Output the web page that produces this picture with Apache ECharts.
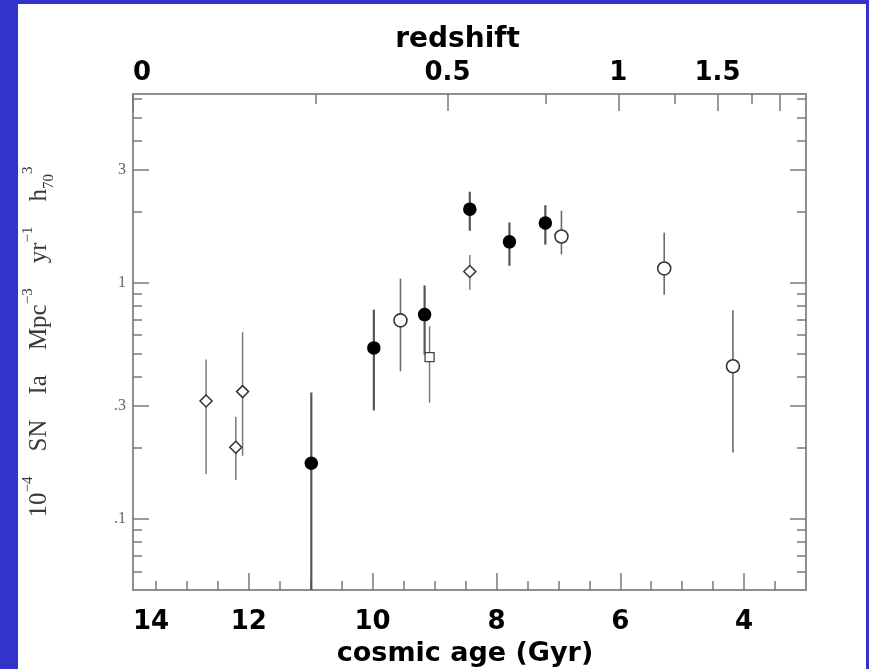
<!DOCTYPE html>
<html>
<head>
<meta charset="utf-8">
<script src="https://cdn.jsdelivr.net/npm/echarts@6/dist/echarts.min.js"></script>
<style>
  html, body { margin: 0; padding: 0; background: #3333cc; }
  #chart { width: 869px; height: 669px; }
</style>
</head>
<body>
<div id="chart"></div>
<script>
// SN Ia rate (10^-4 SN Ia Mpc^-3 yr^-1 h70^3) against cosmic age in Gyr.
// Filled circles
const filledAge  = [10.99, 9.98, 9.16, 8.43, 7.79, 7.21];
const filledRate = [0.172, 0.530, 0.733, 2.05, 1.49, 1.79];
const filledHi   = [0.343, 0.769, 0.974, 2.43, 1.80, 2.13];
const filledLo   = [0.03, 0.288, 0.497, 1.66, 1.18, 1.45];

// Open circles
const openAge  = [9.55, 6.95, 5.29, 4.18];
const openRate = [0.693, 1.57, 1.15, 0.443];
const openHi   = [1.04, 2.02, 1.63, 0.764];
const openLo   = [0.422, 1.32, 0.890, 0.191];

// Open diamonds
const diamondAge  = [12.69, 12.21, 12.10, 8.43];
const diamondRate = [0.316, 0.201, 0.346, 1.116];
const diamondHi   = [0.473, 0.271, 0.617, 1.31];
const diamondLo   = [0.155, 0.146, 0.185, 0.934];

// Open square
const squareAge  = [9.08];
const squareRate = [0.484];
const squareHi   = [0.654];
const squareLo   = [0.311];

// Axis ranges and ticks
const ageMin = 3, ageMax = 13.87;
const rateMin = 0.05, rateMax = 6.3;
const ageMajor  = [4, 6, 8, 10, 12];
const ageLabels = [4, 6, 8, 10, 12, 14];
const ageMinor  = [3.5, 4.5, 5, 5.5, 6.5, 7, 7.5, 8.5, 9, 9.5, 10.5, 11, 11.5, 12.5, 13, 13.5];
// redshift ticks and the cosmic age at which each one sits
const zMajor    = ['2', '1.5', '1', '0.5', '0'];
const zMajorAge = [3.43, 4.43, 6.03, 8.79, 13.87];
const zLabels   = ['1.5', '1', '0.5', '0'];
const zMinor    = ['1.75', '1.25', '0.75', '0.25'];
const zMinorAge = [3.88, 5.12, 7.21, 10.92];
const rateMajor = [0.1, 0.3, 1, 3];
const rateMinor = [0.06, 0.07, 0.08, 0.09, 0.2, 0.4, 0.5, 0.6, 0.7, 0.8, 0.9, 2, 4, 5, 6];

const FRAME = '#8f8f8f';
const TICK = '#7a7a7a';
const SANS = 'DejaVu Sans';
const SERIF = 'Liberation Serif';

const gridBox = { left: 133, right: 63, top: 94, bottom: 79, outerBoundsMode: 'none', containLabel: false };

const zLabelByAge = {};
zMajorAge.forEach((a, i) => { if (zLabels.includes(zMajor[i])) zLabelByAge[a] = zMajor[i]; });

function ageAxis(gridIndex, position, opts) {
  return Object.assign({
    gridIndex, position, type: 'value', min: ageMin, max: ageMax, inverse: true,
    splitLine: { show: false },
    axisLine: { show: false },
    axisLabel: { show: false }
  }, opts);
}
function rateAxis(gridIndex, position, opts) {
  return Object.assign({
    gridIndex, position, type: 'log', logBase: 10, min: rateMin, max: rateMax,
    splitLine: { show: false },
    axisLine: { show: false },
    axisLabel: { show: false }
  }, opts);
}
const frameLine = { show: true, onZero: false, lineStyle: { color: FRAME, width: 2 } };
const boldText = { fontFamily: SANS, fontWeight: 'bold', fontSize: 26, color: '#000' };
const titleText = { fontFamily: SANS, fontWeight: 'bold', fontSize: 27, color: '#000' };

function errorBars(ages, lo, hi, color, width) {
  return {
    type: 'custom', xAxisIndex: 0, yAxisIndex: 0, clip: true, silent: true, z: 2,
    data: ages.map((a, i) => [a, lo[i], hi[i]]),
    renderItem: (params, api) => {
      const top = api.coord([api.value(0), api.value(2)]);
      const bot = api.coord([api.value(0), api.value(1)]);
      return {
        type: 'line',
        shape: { x1: top[0], y1: top[1], x2: bot[0], y2: bot[1] },
        style: { stroke: color, lineWidth: width }
      };
    }
  };
}
function points(ages, rates, symbol, size, itemStyle) {
  return {
    type: 'scatter', xAxisIndex: 0, yAxisIndex: 0, z: 3, silent: true,
    symbol, symbolSize: size, itemStyle: Object.assign({ opacity: 1 }, itemStyle),
    data: ages.map((a, i) => [a, rates[i]])
  };
}

const option = {
  backgroundColor: '#3333cc',
  animation: false,
  graphic: [{
    type: 'rect', z: -10, silent: true,
    shape: { x: 18, y: 4, width: 848, height: 665 },
    style: { fill: '#ffffff' }
  }],
  grid: [0, 1, 2, 3].map(() => Object.assign({}, gridBox)),
  xAxis: [
    ageAxis(0, 'bottom', {
      axisLine: frameLine,
      axisTick: { show: true, inside: true, length: 17, customValues: ageMajor,
                  lineStyle: { color: TICK, width: 1.5 } },
      axisLabel: Object.assign({
        show: true, margin: 19, alignMaxLabel: 'left',
        customValues: ageLabels.map(v => Math.min(v, ageMax)),
        formatter: v => String(Math.round(v))
      }, boldText),
      name: 'cosmic age (Gyr)', nameLocation: 'middle', nameGap: 50,
      nameTextStyle: Object.assign({ padding: [0, 9, 0, 0] }, titleText)
    }),
    ageAxis(1, 'top', {
      axisLine: frameLine,
      axisTick: { show: true, inside: true, length: 17, customValues: zMajorAge,
                  lineStyle: { color: TICK, width: 1.5 } },
      axisLabel: Object.assign({
        show: true, margin: 8, alignMaxLabel: 'left',
        customValues: zMajorAge.filter(a => zLabelByAge[a] !== undefined),
        formatter: v => zLabelByAge[v] !== undefined ? zLabelByAge[v] : ''
      }, boldText),
      name: 'redshift', nameLocation: 'middle', nameGap: 40,
      nameTextStyle: Object.assign({ padding: [0, 24, 0, 0] }, titleText, { fontSize: 28 })
    }),
    ageAxis(2, 'bottom', {
      axisTick: { show: true, inside: true, length: 9, customValues: ageMinor,
                  lineStyle: { color: TICK, width: 1.5 } }
    }),
    ageAxis(3, 'top', {
      axisTick: { show: true, inside: true, length: 10, customValues: zMinorAge,
                  lineStyle: { color: TICK, width: 1.5 } }
    })
  ],
  yAxis: [
    rateAxis(0, 'left', {
      axisLine: frameLine,
      axisTick: { show: true, inside: true, length: 16, customValues: rateMajor,
                  lineStyle: { color: TICK, width: 1.5 } },
      axisLabel: {
        show: true, margin: 7, customValues: rateMajor,
        formatter: v => String(v).replace(/^0\./, '.'),
        fontFamily: SERIF, fontSize: 16, color: '#666'
      },
      name: '{n|10}{sup|\u22124}{n|    SN    Ia    Mpc}{sup|\u22123}{n|    yr}{sup|\u22121}{n|    h}{sub|70}{sup|3}',
      nameLocation: 'middle', nameRotate: 90, nameGap: 76,
      nameTextStyle: {
        rich: {
          n:   { fontFamily: SERIF, fontSize: 25, color: '#3a3a3a', lineHeight: 36 },
          sup: { fontFamily: SERIF, fontSize: 15, color: '#3a3a3a', lineHeight: 15, verticalAlign: 'top' },
          sub: { fontFamily: SERIF, fontSize: 15, color: '#3a3a3a', lineHeight: 15, verticalAlign: 'bottom' }
        }
      }
    }),
    rateAxis(1, 'right', {
      axisLine: frameLine,
      axisTick: { show: true, inside: true, length: 16, customValues: rateMajor,
                  lineStyle: { color: TICK, width: 1.5 } }
    }),
    rateAxis(2, 'left', {
      axisTick: { show: true, inside: true, length: 9, customValues: rateMinor,
                  lineStyle: { color: TICK, width: 1.5 } }
    }),
    rateAxis(3, 'right', {
      axisTick: { show: true, inside: true, length: 9, customValues: rateMinor,
                  lineStyle: { color: TICK, width: 1.5 } }
    })
  ],
  series: [
    errorBars(diamondAge, diamondLo, diamondHi, '#7a7a7a', 1.5),
    errorBars(squareAge, squareLo, squareHi, '#7a7a7a', 1.5),
    errorBars(openAge, openLo, openHi, '#6a6a6a', 1.6),
    errorBars(filledAge, filledLo, filledHi, '#555555', 2.2),
    points(diamondAge, diamondRate, 'diamond', 12,
           { color: '#ffffff', borderColor: '#333333', borderWidth: 1.5 }),
    points(squareAge, squareRate, 'rect', 9,
           { color: '#ffffff', borderColor: '#444444', borderWidth: 1.3 }),
    points(openAge, openRate, 'circle', 13,
           { color: '#ffffff', borderColor: '#333333', borderWidth: 1.6 }),
    points(filledAge, filledRate, 'circle', 13.5,
           { color: '#000000', borderColor: '#000000', borderWidth: 0 })
  ]
};

const chart = echarts.init(document.getElementById('chart'), null, { renderer: 'canvas' });
chart.setOption(option);
</script>
</body>
</html>
